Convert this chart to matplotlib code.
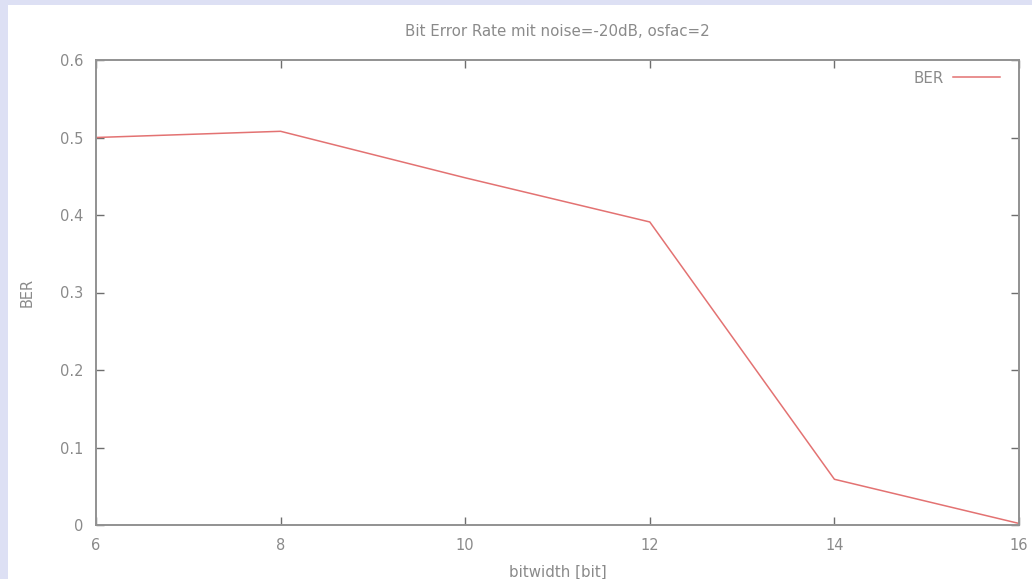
import matplotlib
matplotlib.use("Agg")
import matplotlib.pyplot as plt
from matplotlib.patches import Rectangle

# data
bitwidth = [6, 8, 10, 12, 14, 16]
ber = [0.500, 0.508, 0.448, 0.391, 0.059, 0.002]

xticks = [6, 8, 10, 12, 14, 16]
yticks = [0, 0.1, 0.2, 0.3, 0.4, 0.5, 0.6]
ytick_labels = ['0', '0.1', '0.2', '0.3', '0.4', '0.5', '0.6']

plt.rcParams['font.family'] = ['DejaVu Sans']

fig = plt.figure(figsize=(10.32, 5.79), dpi=100, facecolor='#dde0f4')
# white slide panel, behind the axes
fig.patches.append(Rectangle((8 / 1032, 0), 1, 1 - 5 / 579, transform=fig.transFigure,
                             facecolor='white', edgecolor='none', zorder=-10))

ax = fig.add_axes([96 / 1032, 1 - 525 / 579, (1019 - 96) / 1032, (525 - 60) / 579])
ax.set_facecolor('white')

ax.plot(bitwidth, ber, color='#e37272', lw=1.1, label='BER')

ax.set_xlim(6, 16)
ax.set_ylim(0, 0.6)
ax.set_xticks(xticks)
ax.set_yticks(yticks)
ax.set_yticklabels(ytick_labels)

gray = '#8a8a8a'
for s in ax.spines.values():
    s.set_color('#929292')
    s.set_linewidth(1.4)
ax.tick_params(direction='in', length=6, width=1, colors='#6e6e6e', labelcolor=gray,
               labelsize=10.5, top=True, right=True)
ax.tick_params(axis='x', pad=9)
ax.tick_params(axis='y', pad=9)

ax.set_title('Bit Error Rate mit noise=-20dB, osfac=2', fontsize=10.8, color=gray, pad=17)
ax.set_xlabel('bitwidth [bit]', fontsize=10.8, color=gray, labelpad=9)
ax.set_ylabel('BER', fontsize=10.5, color=gray, labelpad=18)

leg = ax.legend(loc='upper right', bbox_to_anchor=(0.9794, 0.977), frameon=False,
                markerfirst=False, fontsize=10.8, handlelength=3.1, borderaxespad=0,
                borderpad=0, handletextpad=0.65)
for t in leg.get_texts():
    t.set_color(gray)

fig.savefig('out.png', dpi=100, facecolor=fig.get_facecolor())
